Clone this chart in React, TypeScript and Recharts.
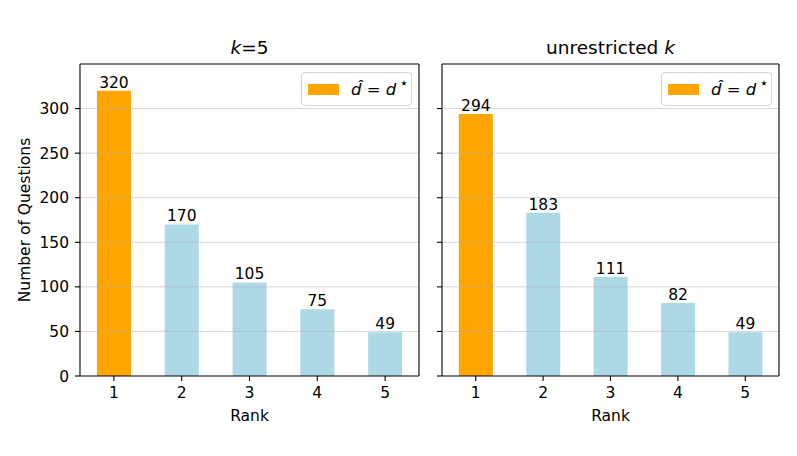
import { BarChart, Bar, XAxis, YAxis, Cell, LabelList, Label, Legend, ReferenceLine } from "recharts";

const ranks = ["1", "2", "3", "4", "5"];
const k5Counts = [320, 170, 105, 75, 49];
const unrestrictedCounts = [294, 183, 111, 82, 49];
const yTicks = [0, 50, 100, 150, 200, 250, 300];

const ORANGE = "#ffa500";
const LIGHT_BLUE = "#add8e6";
const FONT = "'DejaVu Sans', sans-serif";
const TEXT_SIZE = 15.5;

const tickStyle = { fill: "#000", fontSize: TEXT_SIZE, fontFamily: FONT };

function LegendBox() {
  return (
    <div
      style={{
        width: 111,
        height: 34,
        boxSizing: "border-box",
        border: "1px solid #d3d3d3",
        borderRadius: 4,
        background: "rgba(255,255,255,0.8)",
        display: "flex",
        alignItems: "center",
        paddingLeft: 6,
        fontFamily: FONT,
        color: "#000",
      }}
    >
      <span style={{ display: "inline-block", width: 31, height: 11, background: ORANGE }} />
      <span style={{ marginLeft: 12, fontSize: 16.5, whiteSpace: "nowrap" }}>
        <i>d&#770;</i> = <i>d</i>
        <sup style={{ fontSize: 15, marginLeft: 3, lineHeight: 0 }}>⋆</sup>
      </span>
    </div>
  );
}

function makeTitle(plain: string, italic: string, italicFirst: boolean) {
  return (props: any) => {
    const vb = props.viewBox;
    return (
      <text
        x={vb.x + vb.width / 2}
        y={vb.y - 9}
        textAnchor="middle"
        fontSize={18.5}
        fontFamily={FONT}
        fill="#000"
      >
        {italicFirst ? (
          <>
            <tspan fontStyle="italic">{italic}</tspan>
            <tspan>{plain}</tspan>
          </>
        ) : (
          <>
            <tspan>{plain}</tspan>
            <tspan fontStyle="italic">{italic}</tspan>
          </>
        )}
      </text>
    );
  };
}

type PanelProps = {
  counts: number[];
  left: number;
  width: number;
  yAxisWidth: number;
  marginRight: number;
  showYLabels: boolean;
  title: (props: any) => any;
  legendLeft: number;
};

function Panel({ counts, left, width, yAxisWidth, marginRight, showYLabels, title, legendLeft }: PanelProps) {
  const data = ranks.map((r, i) => ({ rank: r, count: counts[i] }));
  return (
    <div style={{ position: "absolute", left, top: 0 }}>
      <BarChart
        width={width}
        height={456}
        data={data}
        margin={{ top: 63, right: marginRight - 1, bottom: 50, left: 0 }}
        barCategoryGap="25%"
      >
        <XAxis
          dataKey="rank"
          height={30}
          tick={tickStyle}
          tickSize={5}
          tickMargin={6}
          axisLine={{ stroke: "#000", strokeWidth: 1.1 }}
          tickLine={{ stroke: "#000", strokeWidth: 1.1 }}
        >
          <Label
            value="Rank"
            position="bottom"
            offset={4}
            style={{ fontSize: TEXT_SIZE, fontFamily: FONT, fill: "#000" }}
          />
        </XAxis>
        <XAxis
          xAxisId="top"
          dataKey="rank"
          orientation="top"
          height={1}
          tick={false}
          tickLine={false}
          axisLine={{ stroke: "#000", strokeWidth: 1.1 }}
        >
          <Label content={title} />
        </XAxis>
        <YAxis
          domain={[0, 350]}
          ticks={yTicks}
          width={yAxisWidth}
          tick={tickStyle}
          tickSize={5}
          tickMargin={6}
          tickFormatter={showYLabels ? undefined : () => ""}
          axisLine={{ stroke: "#000", strokeWidth: 1.1 }}
          tickLine={{ stroke: "#000", strokeWidth: 1.1 }}
        >
          {showYLabels && (
            <Label
              value="Number of Questions"
              angle={-90}
              position="insideLeft"
              offset={24}
              style={{ textAnchor: "middle", fontSize: TEXT_SIZE, fontFamily: FONT, fill: "#000" }}
            />
          )}
        </YAxis>
        <YAxis
          yAxisId="right"
          orientation="right"
          width={1}
          domain={[0, 350]}
          tick={false}
          tickLine={false}
          axisLine={{ stroke: "#000", strokeWidth: 1.1 }}
        />
        <Legend
          layout="vertical"
          align="center"
          verticalAlign="middle"
          content={() => <LegendBox />}
          wrapperStyle={{ position: "absolute", left: legendLeft, top: 72, width: 111 }}
        />
        <Bar dataKey="count" name="d̂ = d*" isAnimationActive={false}>
          {data.map((d, i) => (
            <Cell key={d.rank} fill={i === 0 ? ORANGE : LIGHT_BLUE} />
          ))}
          <LabelList
            dataKey="count"
            position="top"
            offset={3}
            style={{ fontSize: TEXT_SIZE, fontFamily: FONT, fill: "#000" }}
          />
        </Bar>
        {yTicks.slice(1).map((t) => (
          <ReferenceLine key={t} y={t} stroke="#b0b0b0" strokeOpacity={0.5} strokeWidth={1} />
        ))}
      </BarChart>
    </div>
  );
}

export default function App() {
  return (
    <div
      style={{
        position: "absolute",
        left: 0,
        top: 0,
        width: 797,
        height: 456,
        background: "#fff",
        fontFamily: FONT,
      }}
    >
      <Panel
        counts={k5Counts}
        left={0}
        width={430}
        yAxisWidth={80}
        marginRight={11}
        showYLabels={true}
        title={makeTitle("=5", "k", true)}
        legendLeft={301}
      />
      <Panel
        counts={unrestrictedCounts}
        left={400}
        width={397}
        yAxisWidth={42}
        marginRight={18}
        showYLabels={false}
        title={makeTitle("unrestricted ", "k", false)}
        legendLeft={261}
      />
    </div>
  );
}
